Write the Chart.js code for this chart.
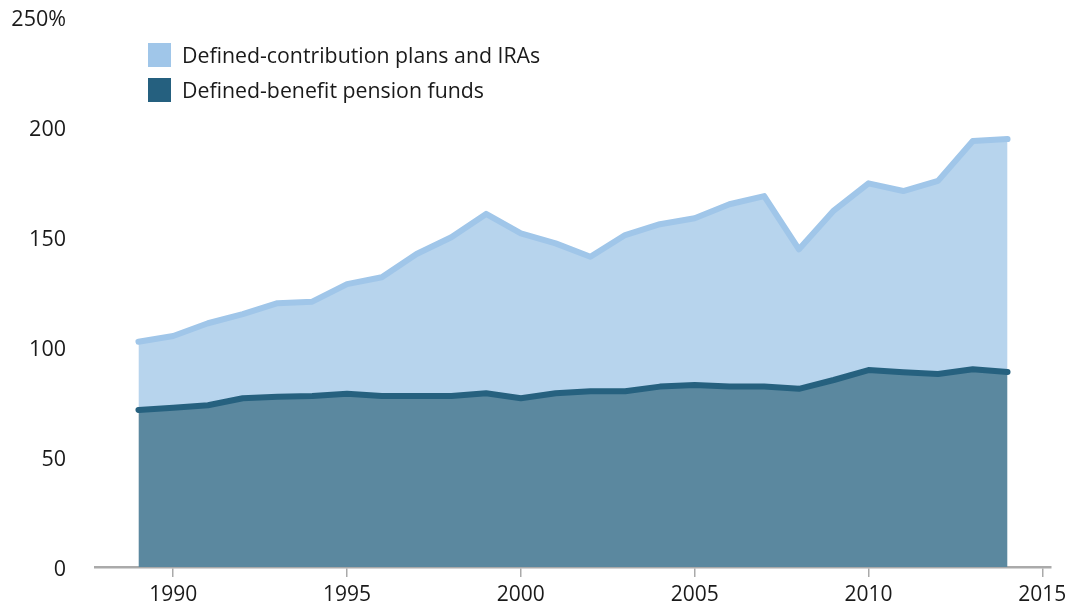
<!DOCTYPE html>
<html>
<head>
<meta charset="utf-8">
<script src="https://cdn.jsdelivr.net/npm/chart.js@4/dist/chart.umd.min.js"></script>
<style>
  html, body { margin: 0; padding: 0; background: #fff; }
  #wrap { position: relative; width: 1070px; height: 606px; }
  #legend { position: absolute; left: 148px; top: 37px; font-family: "Open Sans", sans-serif; font-size: 21.3px; color: #1a1a1a; }
  .item { display: flex; align-items: center; height: 35px; }
  .sw { width: 23px; height: 24px; margin-right: 11px; }
</style>
</head>
<body>
<div id="wrap">
  <canvas id="c" width="1070" height="606"></canvas>
  <div id="legend"></div>
</div>
<script>
const years = [1989,1990,1991,1992,1993,1994,1995,1996,1997,1998,1999,2000,2001,2002,2003,2004,2005,2006,2007,2008,2009,2010,2011,2012,2013,2014];
const definedBenefit = [71.4,72.4,73.5,76.7,77.4,77.7,78.8,77.7,77.7,77.7,79.0,76.7,79.0,79.9,79.9,82.0,82.7,82.0,82.0,81.0,85.0,89.5,88.5,87.7,89.9,88.6];
const definedContribution = [31.0,32.6,37.3,38.2,42.5,42.9,49.8,54.0,64.6,72.2,81.5,75.0,68.1,61.1,71.0,73.8,75.8,82.9,86.6,63.4,77.0,84.9,82.4,87.8,103.7,105.9];
const xTicks = [1990,1995,2000,2005,2010,2015];
const yTicks = [0,50,100,150,200,250];
const seriesNames = ["Defined-contribution plans and IRAs","Defined-benefit pension funds"];

const FONT = "'Open Sans', sans-serif";
const dbPoints = years.map((yr, i) => ({x: yr, y: definedBenefit[i]}));
const dcPoints = years.map((yr, i) => ({x: yr, y: definedContribution[i]}));

const chart = new Chart(document.getElementById('c'), {
  type: 'line',
  data: {
    datasets: [
      {
        label: seriesNames[1],
        data: dbPoints,
        fill: 'origin',
        backgroundColor: '#5b889f',
        borderColor: '#26617f',
        borderWidth: 6,
        borderCapStyle: 'round',
        borderJoinStyle: 'round',
        pointRadius: 0,
        tension: 0
      },
      {
        label: seriesNames[0],
        data: dcPoints,
        fill: '-1',
        backgroundColor: '#b7d4ed',
        borderColor: '#a0c6e9',
        borderWidth: 6,
        borderCapStyle: 'round',
        borderJoinStyle: 'round',
        pointRadius: 0,
        tension: 0
      }
    ]
  },
  options: {
    responsive: false,
    animation: false,
    layout: { padding: { top: 17, right: 19, bottom: 0, left: 0 } },
    plugins: { legend: { display: false }, tooltip: { enabled: false } },
    scales: {
      x: {
        type: 'linear',
        min: 1987.75,
        max: 2015.25,
        afterBuildTicks: (s) => { s.ticks = xTicks.map(v => ({value: v})); },
        afterFit: (s) => { s.height = 39; s.paddingLeft = 0; s.paddingRight = 0; },
        grid: { display: true, drawOnChartArea: false, drawTicks: true, tickLength: 10, color: '#aaaaaa', lineWidth: 1.5 },
        border: { display: true, color: '#aaaaaa', width: 2.5 },
        ticks: { font: { family: FONT, size: 21 }, color: '#1a1a1a', padding: 5, maxRotation: 0, callback: (v) => String(v) }
      },
      y: {
        type: 'linear',
        stacked: true,
        min: 0,
        max: 250,
        afterBuildTicks: (s) => { s.ticks = yTicks.map(v => ({value: v})); },
        afterFit: (s) => { s.width = 95; },
        grid: { display: true, drawOnChartArea: false, drawTicks: true, tickLength: 29, color: 'rgba(0,0,0,0)' },
        border: { display: false },
        ticks: { font: { family: FONT, size: 21.5 }, color: '#1a1a1a', padding: 0, labelOffset: 3,
          callback: (v) => v === 250 ? '250%' : String(v) }
      }
    }
  }
});

const legendEl = document.getElementById('legend');
const legendColors = ['#a0c6e9', '#25607f'];
seriesNames.forEach((name, i) => {
  const row = document.createElement('div');
  row.className = 'item';
  const sw = document.createElement('div');
  sw.className = 'sw';
  sw.style.background = legendColors[i];
  const t = document.createElement('span');
  t.textContent = name;
  row.appendChild(sw);
  row.appendChild(t);
  legendEl.appendChild(row);
});
</script>
</body>
</html>
